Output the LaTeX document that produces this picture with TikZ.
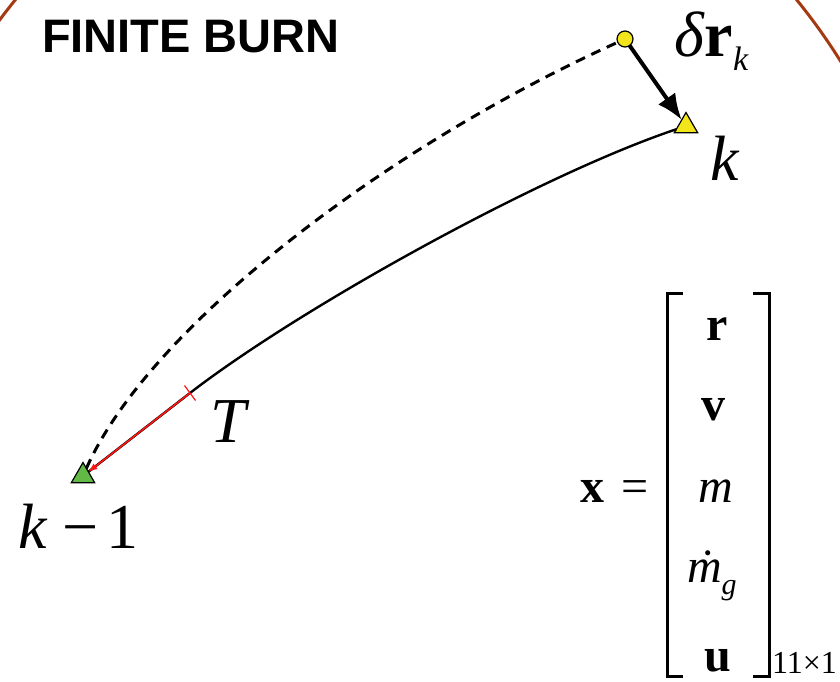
\documentclass[tikz,border=0pt]{standalone}
\usepackage{fontspec}
\setmainfont{Liberation Serif}
\newfontfamily\headfont{Liberation Sans}
\usepackage{xcolor}
\definecolor{fbBrown}{HTML}{A33A12}
\definecolor{fbGreen}{HTML}{62B946}
\definecolor{fbYellow}{HTML}{F2E51B}
\definecolor{fbRed}{HTML}{FF1414}
\usetikzlibrary{arrows.meta,shapes.geometric}

\begin{document}
\begin{tikzpicture}[x=1pt,y=-1pt,
      every node/.style={inner sep=0pt,outer sep=0pt},
      lbl/.style={font=\fontsize{64}{64}\selectfont,anchor=base west},
      entry/.style={font=\fontsize{48}{48}\selectfont,anchor=base},
      tri/.style={regular polygon,regular polygon sides=3,minimum size=27pt,
                  draw=black,line width=1.2pt},
      dot/.style={circle,minimum size=16pt,draw=black,line width=1.2pt,fill=fbYellow},
      traj/.style={line width=2.4pt,black},
      coast/.style={line width=3pt,black,dash pattern=on 10pt off 7pt},
      burn/.style={-{Latex[length=9pt,width=7pt]},line width=1.6pt,fbRed},
      vec/.style={-{Latex[length=26pt,width=21pt]},line width=4pt,black},
      rim/.style={line width=3pt,fbBrown},
      brk/.style={line width=3pt,black},
    ]

    \useasboundingbox (0,0) rectangle (840,682);
    \clip (0,0) rectangle (840,682);

    % --- outer rim ---
    \draw[rim] (406,420) ellipse[x radius=535,y radius=615];

    % --- title ---
    \node[anchor=base west,font=\headfont\bfseries\fontsize{47}{47}\selectfont]
      (title) at (42,53) {FINITE BURN};

    % --- nodes of the segment ---
    \node[tri,fill=fbGreen] (km1) at (83,476) {};
    \node[tri,fill=fbYellow] (k) at (686,126) {};
    \node[dot] (prop) at (625,39) {};
    \coordinate (tend) at (190,393);

    % --- trajectories ---
    \draw[coast] (km1) .. controls (150,325) and (390,145) .. (prop);
    \draw[traj] (km1) -- (tend) .. controls (300,308) and (540,175) .. (k);
    \draw[burn] (tend) -- (km1);
    \draw[fbRed,line width=1.2pt] (tend) ++(-5.5,-7.5) -- ++(11,15);

    % --- defect vector ---
    \draw[vec] (prop) -- (k);

    % --- labels ---
    \node[lbl] (drk) at (674,57) {\textit{δ}\textbf{r}\raisebox{-14pt}{\fontsize{34}{34}\selectfont\textit{k}}};
    \node[lbl] (klbl) at (710,180) {\textit{k}};
    \node[lbl] (tlbl) at (210,442) {\textit{T}};
    \node[lbl] (km1lbl) at (18,548) {\textit{k}\hspace{15pt}−\hspace{8pt}1};

    % --- state vector ---
    \node[entry,anchor=base west] (xeq) at (580,502) {\textbf{x}\hspace{17pt}=};
    \node[entry] (er) at (717,340) {\textbf{r}};
    \node[entry] (ev) at (713,420) {\textbf{v}};
    \node[entry] (em) at (716,502) {\textit{m}};
    \node[entry,anchor=base west] (emd) at (687,582)
      {\textit{\.{m}}\raisebox{-12pt}{\fontsize{30}{30}\selectfont\textit{g}}};
    \node[entry] (eu) at (718,671) {\textbf{u}};
    \draw[brk] (683,293) -- (667,293) -- (667,676) -- (683,676);
    \draw[brk] (753,293) -- (769,293) -- (769,676) -- (753,676);
    \node[anchor=base west,font=\fontsize{32}{32}\selectfont] (dim) at (772,673) {11×1};

  \end{tikzpicture}
\end{document}
